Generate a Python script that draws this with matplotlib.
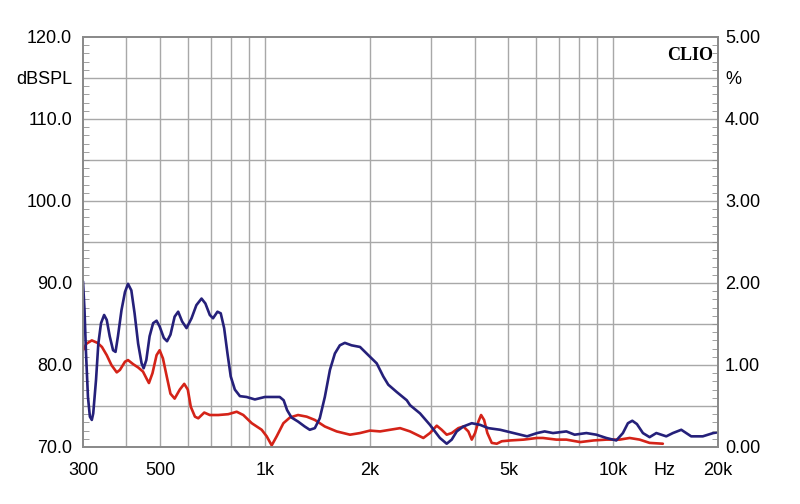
import numpy as np
import matplotlib
matplotlib.use("Agg")
import matplotlib.pyplot as plt
from matplotlib.ticker import FixedLocator, MultipleLocator, NullFormatter

plt.rcParams['font.family'] = ['Liberation Sans', 'DejaVu Sans']

# frequency response (blue), dBSPL
blue_f = [300, 303, 306, 310, 314, 318, 321, 327, 332, 338, 345, 351, 358, 366, 372,
          378, 387, 396, 404, 413, 422, 432, 442, 448, 456, 466, 477, 488, 498, 512,
          523, 535, 550, 563, 578, 595, 615, 635, 657, 674, 694, 709, 730, 746, 763,
          780, 797, 819, 847, 885, 935, 999, 1062, 1102, 1131, 1157, 1191, 1244,
          1300, 1344, 1390, 1436, 1485, 1536, 1587, 1640, 1695, 1772, 1874, 2002,
          2093, 2186, 2259, 2390, 2553, 2609, 2787, 2976, 3179, 3325, 3437, 3553,
          3712, 3924, 4146, 4380, 4736, 5176, 5657, 6045, 6354, 6715, 7336, 7749,
          8374, 8945, 9556, 10208, 10663, 11022, 11347, 11698, 12172, 12723, 13300,
          14205, 14839, 15687, 16750, 18083, 19380, 20000]
blue_db = [90.2, 86.7, 81.5, 76.1, 73.7, 73.3, 74.1, 78.2, 82.6, 85.1, 86.1, 85.5,
           83.5, 81.8, 81.6, 83.5, 86.7, 88.9, 89.9, 89.1, 86.3, 82.6, 80.2, 79.6,
           80.6, 83.5, 85.1, 85.4, 84.7, 83.3, 82.9, 83.7, 85.9, 86.5, 85.3, 84.5,
           85.7, 87.3, 88.1, 87.5, 86.1, 85.7, 86.5, 86.3, 84.5, 81.4, 78.6, 77.0,
           76.2, 76.1, 75.8, 76.1, 76.1, 76.1, 75.7, 74.5, 73.6, 73.1, 72.5, 72.1,
           72.3, 73.5, 76.1, 79.4, 81.4, 82.4, 82.7, 82.4, 82.2, 81.0, 80.2, 78.6,
           77.6, 76.7, 75.7, 75.1, 74.1, 72.7, 71.1, 70.4, 70.9, 71.9, 72.5, 72.9,
           72.7, 72.3, 72.1, 71.7, 71.3, 71.7, 71.9, 71.7, 71.9, 71.5, 71.7, 71.5,
           71.1, 70.8, 71.7, 72.9, 73.2, 72.8, 71.7, 71.2, 71.7, 71.3, 71.7, 72.1,
           71.3, 71.3, 71.7, 71.8]

# second curve (red)
red_f = [300, 307, 318, 330, 340, 351, 362, 375, 383, 396, 404, 418, 432, 446, 456,
         464, 475, 488, 498, 509, 522, 535, 550, 569, 586, 600, 612, 629, 643, 669,
         694, 734, 784, 829, 866, 916, 978, 1011, 1045, 1080, 1129, 1179, 1244,
         1317, 1390, 1485, 1606, 1754, 1874, 2002, 2140, 2286, 2443, 2609, 2727,
         2849, 2976, 3113, 3216, 3325, 3437, 3591, 3712, 3836, 3924, 4011, 4100,
         4174, 4258, 4351, 4479, 4630, 4786, 5063, 5532, 6045, 6283, 6867, 7336,
         8041, 8786, 9556, 10435, 11151, 11913, 12723, 13887]
red_db = [81.8, 82.6, 83.0, 82.7, 82.2, 81.2, 80.0, 79.1, 79.4, 80.4, 80.6, 80.1,
          79.7, 79.2, 78.4, 77.8, 79.0, 81.2, 81.8, 80.8, 78.6, 76.5, 75.9, 77.0,
          77.7, 77.0, 74.9, 73.7, 73.5, 74.2, 73.9, 73.9, 74.0, 74.3, 73.9, 72.9,
          72.1, 71.3, 70.2, 71.3, 72.9, 73.6, 73.9, 73.7, 73.3, 72.5, 71.9, 71.5,
          71.7, 72.0, 71.9, 72.1, 72.3, 71.9, 71.5, 71.1, 71.7, 72.6, 72.1, 71.5,
          71.7, 72.3, 72.5, 71.9, 70.9, 71.7, 73.1, 73.9, 73.3, 71.7, 70.5, 70.4,
          70.7, 70.8, 70.9, 71.1, 71.1, 70.9, 70.9, 70.6, 70.8, 70.9, 70.9, 71.1,
          70.9, 70.5, 70.4]

x_ticks = [300, 500, 1000, 2000, 5000, 10000, 14000, 20000]
x_labels = ['300', '500', '1k', '2k', '5k', '10k', 'Hz', '20k']
x_grid = [400, 500, 600, 700, 800, 900, 1000, 2000, 3000, 4000, 5000, 6000,
          7000, 8000, 9000, 10000]
left_ticks = [70, 80, 90, 100, 110, 115, 120]
left_labels = ['70.0', '80.0', '90.0', '100.0', '110.0', 'dBSPL', '120.0']
right_ticks = [0, 1, 2, 3, 4, 4.5, 5]
right_labels = ['0.00', '1.00', '2.00', '3.00', '4.00', '%', '5.00']

fig = plt.figure(figsize=(8, 5.04), dpi=100)
ax = fig.add_axes([0.10375, 0.1131, 0.79375, 0.8135])

ax.set_xscale('log')
ax.set_xlim(300, 20000)
ax.set_ylim(70, 120)

grid_c = '#a8a8a8'
for f in x_grid:
    ax.axvline(f, color=grid_c, lw=1.0, zorder=1)
for y in range(75, 120, 5):
    ax.axhline(y, color=grid_c, lw=1.0, zorder=1)

ax.plot(red_f, red_db, color='#d42318', lw=1.9, zorder=3,
        solid_joinstyle='round', solid_capstyle='round')
ax.plot(blue_f, blue_db, color='#25207a', lw=1.9, zorder=4,
        solid_joinstyle='round', solid_capstyle='round')

ax.xaxis.set_major_locator(FixedLocator(x_ticks))
ax.xaxis.set_minor_locator(FixedLocator([]))
ax.set_xticklabels(x_labels)
ax.xaxis.set_minor_formatter(NullFormatter())
ax.tick_params(axis='x', which='both', length=0, pad=11, labelsize=13)

ax.yaxis.set_major_locator(FixedLocator(left_ticks))
ax.set_yticklabels(left_labels)
ax.yaxis.set_minor_locator(MultipleLocator(1))
ax.tick_params(axis='y', which='major', length=0, pad=8, labelsize=13)
ax.tick_params(axis='y', which='minor', direction='in', length=4, color='#909090')

ax2 = ax.twinx()
ax2.set_ylim(0, 5)
ax2.yaxis.set_major_locator(FixedLocator(right_ticks))
ax2.set_yticklabels(right_labels)
ax2.yaxis.set_minor_locator(MultipleLocator(0.1))
ax2.tick_params(axis='y', which='major', length=0, pad=5, labelsize=13)
ax2.tick_params(axis='y', which='minor', direction='in', length=4, color='#909090')

for a in (ax, ax2):
    for s in a.spines.values():
        s.set_color('#8a8a8a')
        s.set_linewidth(1.3)

ax.text(0.993, 0.975, 'CLIO', transform=ax.transAxes, ha='right', va='top',
        fontsize=13, fontweight='bold', family=['Liberation Serif', 'DejaVu Serif'],
        zorder=5)

fig.savefig('out.png', dpi=100)
